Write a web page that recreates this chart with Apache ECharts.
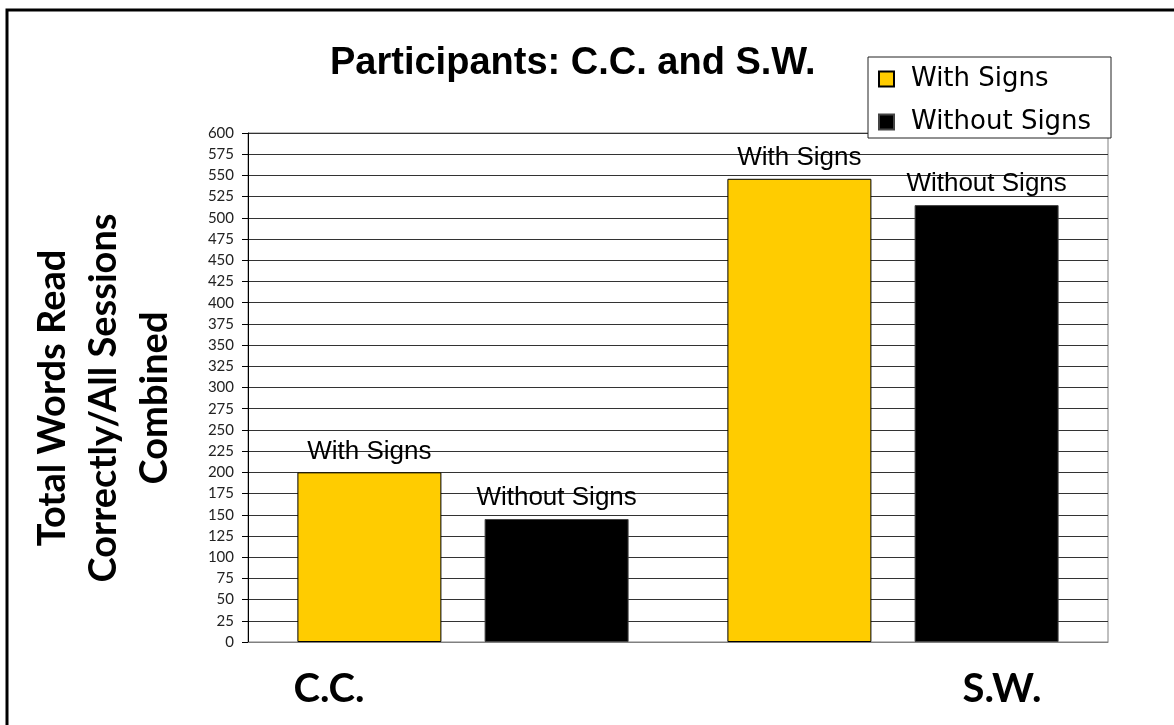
<!DOCTYPE html>
<html>
<head>
<meta charset="utf-8">
<title>Participants: C.C. and S.W.</title>
<script src="https://cdn.jsdelivr.net/npm/echarts@6/dist/echarts.min.js"></script>
<style>
  html, body { margin: 0; padding: 0; background: #fff; }
  #chart { width: 1174px; height: 725px; }
</style>
</head>
<body>
<div id="chart"></div>
<script>
// Participants and the two reading conditions
const participants = ['C.C.', 'S.W.'];
const withSigns = [200, 546];
const withoutSigns = [145, 515];
const seriesNames = ['With Signs', 'Without Signs'];
const yTicks = { min: 0, max: 600, step: 25 };

const gothic = 'Lato, "DejaVu Sans", sans-serif';
const wideSans = '"DejaVu Sans", Lato, sans-serif';
const arial = '"Liberation Sans", Arial, sans-serif';

const chart = echarts.init(document.getElementById('chart'), null, { renderer: 'canvas' });

const barLabel = {
  show: true,
  position: 'top',
  distance: 8,
  formatter: '{a}',
  fontFamily: arial,
  fontSize: 26,
  color: '#000'
};

chart.setOption({
  backgroundColor: '#fff',
  animation: false,
  title: {
    text: 'Participants: C.C. and S.W.',
    left: 330,
    top: 45,
    padding: 0,
    textStyle: { fontFamily: arial, fontWeight: 'bold', fontSize: 38, color: '#000' }
  },
  legend: {
    orient: 'vertical',
    left: 868,
    top: 57,
    padding: [8, 10, 2, 10],
    itemWidth: 15,
    itemHeight: 15,
    itemGap: 15,
    borderColor: '#222',
    borderWidth: 1,
    backgroundColor: '#fff',
    icon: 'rect',
    textStyle: { fontFamily: wideSans, fontSize: 26, color: '#000', lineHeight: 28, width: 190, padding: [0, 0, 0, 12] },
    data: seriesNames
  },
  grid: {
    left: 248,
    right: 66,
    top: 133,
    bottom: 83,
    show: true,
    borderColor: '#808080',
    borderWidth: 1,
    containLabel: false
  },
  xAxis: {
    type: 'category',
    data: participants,
    axisLine: { lineStyle: { color: '#808080', width: 1 } },
    axisTick: { show: false },
    axisLabel: {
      interval: 0,
      margin: 27,
      formatter: v => (v === participants[0] ? '{l|' + v + '}' : '{r|' + v + '}'),
      rich: {
        l: { fontFamily: gothic, fontWeight: 'bold', fontSize: 40, color: '#000', padding: [0, 268, 0, 0] },
        r: { fontFamily: gothic, fontWeight: 'bold', fontSize: 40, color: '#000', padding: [0, 0, 0, 218] }
      }
    }
  },
  yAxis: {
    type: 'value',
    min: yTicks.min,
    max: yTicks.max,
    interval: yTicks.step,
    axisLine: { show: true, lineStyle: { color: '#000', width: 1 } },
    axisTick: { show: true, inside: false, length: 6, lineStyle: { color: '#000' } },
    axisLabel: { margin: 14, fontFamily: gothic, fontSize: 15, color: '#222' },
    splitLine: { show: true, lineStyle: { color: '#333', width: 1 } }
  },
  series: [
    {
      name: seriesNames[0],
      type: 'bar',
      data: withSigns,
      barWidth: 144,
      barGap: '30%',
      itemStyle: { color: '#FFCC00', borderColor: '#000', borderWidth: 1 },
      label: barLabel
    },
    {
      name: seriesNames[1],
      type: 'bar',
      data: withoutSigns,
      barWidth: 144,
      barGap: '30%',
      itemStyle: { color: '#000', borderColor: '#444', borderWidth: 1 },
      label: barLabel
    }
  ],
  graphic: [
    {
      // outer frame of the chart area
      type: 'rect',
      shape: { x: 7, y: 10, width: 1300, height: 900 },
      style: { fill: 'none', stroke: '#000', lineWidth: 3 },
      silent: true
    },
    {
      // vertical axis title
      type: 'text',
      x: 104,
      y: 398,
      rotation: Math.PI / 2,
      style: {
        text: 'Total Words Read\nCorrectly/All Sessions\nCombined',
        fontFamily: gothic,
        fontWeight: 'bold',
        fontSize: 38,
        lineHeight: 51,
        fill: '#000',
        align: 'center',
        verticalAlign: 'middle'
      }
    }
  ]
});
</script>
</body>
</html>
